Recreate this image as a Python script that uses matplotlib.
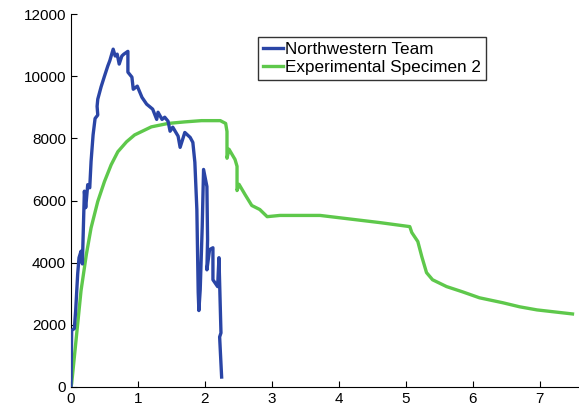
import matplotlib
matplotlib.use("Agg")
import matplotlib.pyplot as plt

plt.rcParams['font.family'] = ['Liberation Sans', 'DejaVu Sans']

nw_x = [0, 0.01, 0.05, 0.07, 0.10, 0.12, 0.15, 0.17, 0.20, 0.22, 0.25, 0.28, 0.30,
        0.33, 0.36, 0.40, 0.39, 0.40, 0.45, 0.50, 0.55, 0.58, 0.63, 0.66, 0.69, 0.72,
        0.76, 0.79, 0.85, 0.85, 0.91, 0.93, 0.99, 1.06, 1.13, 1.22, 1.28, 1.30,
        1.36, 1.40, 1.45, 1.48, 1.52, 1.60, 1.63, 1.70, 1.78, 1.82, 1.85, 1.88,
        1.90, 1.91, 1.93, 1.96, 1.98, 2.03, 2.04, 2.03, 2.07, 2.12, 2.12, 2.19,
        2.21, 2.24, 2.22, 2.25]
nw_y = [0, 1820, 1880, 2460, 3640, 4160, 4370, 3960, 6300, 5770, 6510, 6410, 7260,
        8110, 8640, 8750, 9030, 9260, 9660, 10000, 10330, 10500, 10870, 10650, 10710, 10390,
        10650, 10710, 10800, 10130, 9970, 9580, 9680, 9320, 9100, 8940, 8610, 8840,
        8610, 8680, 8550, 8230, 8360, 8070, 7710, 8190, 8030, 7870, 7230, 5710,
        3050, 2460, 3130, 5160, 7000, 6450, 4740, 3770, 4420, 4480, 3450, 3230,
        4160, 1740, 1610, 320]

sp_x = [0, 0.01, 0.05, 0.10, 0.15, 0.23, 0.30, 0.40, 0.50, 0.60, 0.70, 0.83, 0.95,
        1.20, 1.45, 1.70, 1.95, 2.23, 2.31, 2.33, 2.33, 2.33, 2.36, 2.45, 2.48,
        2.48, 2.48, 2.51, 2.60, 2.70, 2.82, 2.93, 3.12, 3.72, 4.61, 5.06, 5.09,
        5.18, 5.24, 5.31, 5.40, 5.61, 5.85, 6.10, 6.45, 6.70, 6.96, 7.49]
sp_y = [0, 110, 960, 2030, 3100, 4270, 5120, 5970, 6610, 7150, 7570, 7890, 8110,
        8370, 8480, 8530, 8570, 8570, 8480, 8220, 7650, 7360, 7650, 7320, 7100,
        6580, 6320, 6520, 6190, 5840, 5710, 5480, 5520, 5520, 5290, 5160, 4970,
        4680, 4190, 3680, 3450, 3230, 3060, 2870, 2710, 2580, 2480, 2350]

x_ticks = [0, 1, 2, 3, 4, 5, 6, 7]
y_ticks = [0, 2000, 4000, 6000, 8000, 10000, 12000]

fig = plt.figure(figsize=(5.79, 4.13), dpi=100)
ax = fig.add_axes([0.1226, 0.063, 0.8754, 0.903])

ax.plot(nw_x, nw_y, color='#2a45a6', lw=2.4, label='Northwestern Team', zorder=3,
        solid_joinstyle='round')
ax.plot(sp_x, sp_y, color='#5ec84b', lw=2.4, label='Experimental Specimen 2', zorder=2,
        solid_joinstyle='round')

ax.set_xlim(0, 7.57)
ax.set_ylim(0, 12000)
ax.set_xticks(x_ticks)
ax.set_yticks(y_ticks)
ax.tick_params(direction='in', length=4, labelsize=11, colors='black', width=0.8)
ax.spines['top'].set_visible(False)
ax.spines['right'].set_visible(False)
for s in ['left', 'bottom']:
    ax.spines[s].set_linewidth(0.8)

leg = ax.legend(loc='upper left', bbox_to_anchor=(0.369, 0.938), frameon=True,
                fancybox=False, edgecolor='black', fontsize=12.3, handlelength=1.15,
                handletextpad=0.15, borderpad=0.3, labelspacing=0.15, borderaxespad=0)
leg.get_frame().set_linewidth(1.0)

fig.savefig('out.png', dpi=100)
